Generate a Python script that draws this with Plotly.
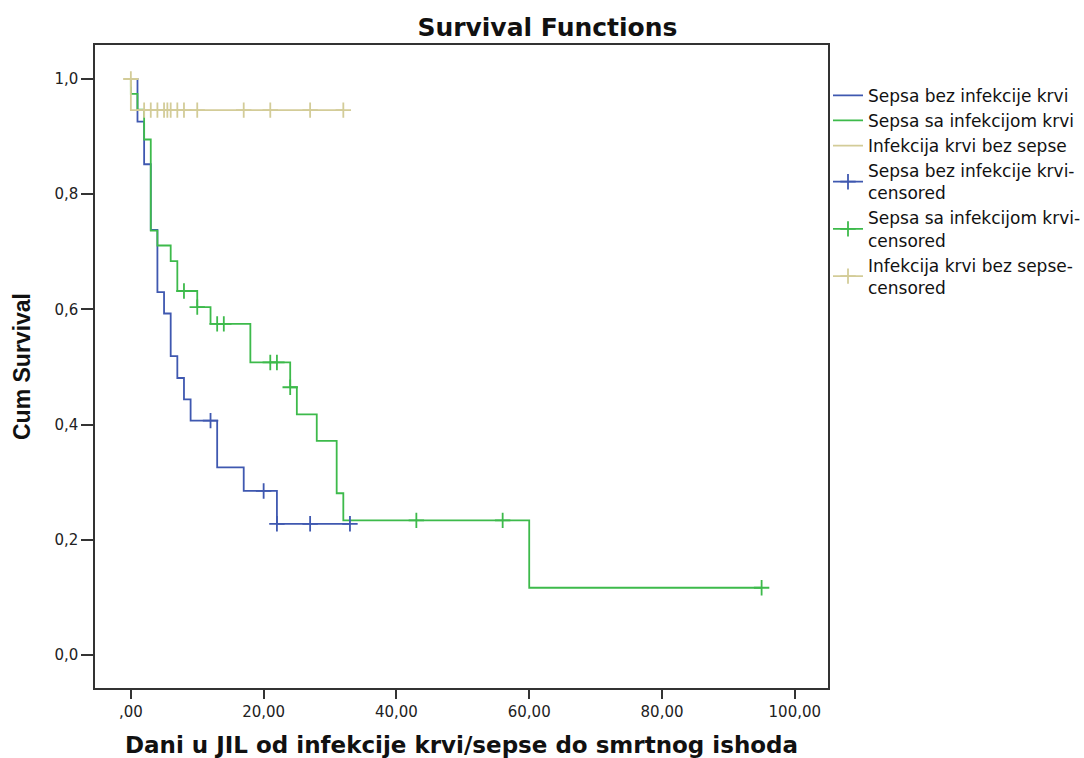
import plotly.graph_objects as go

# ---- data ----
# Sepsa bez infekcije krvi
blue_times = [0, 1, 2, 3, 4, 5, 6, 7, 8, 9, 13, 17, 22]
blue_surv = [1.0, 0.926, 0.852, 0.738, 0.630, 0.593, 0.519, 0.481, 0.444, 0.407, 0.326, 0.285, 0.228]
blue_end = 33
blue_cens_t = [12, 20, 22, 27, 33]
blue_cens_s = [0.407, 0.285, 0.228, 0.228, 0.228]

# Sepsa sa infekcijom krvi
green_times = [0, 0, 1, 2, 3, 4, 6, 7, 10, 12, 18, 24, 25, 28, 31, 32, 60]
green_surv = [1.0, 0.974, 0.947, 0.895, 0.737, 0.711, 0.684, 0.632, 0.604, 0.575, 0.508,
              0.465, 0.418, 0.372, 0.281, 0.234, 0.117]
green_end = 95
green_cens_t = [8, 10, 13, 14, 21, 22, 24, 43, 56, 95]
green_cens_s = [0.632, 0.604, 0.575, 0.575, 0.508, 0.508, 0.465, 0.234, 0.234, 0.117]

# Infekcija krvi bez sepse
tan_times = [0, 0]
tan_surv = [1.0, 0.946]
tan_end = 32
tan_cens_t = [0, 2, 3, 4, 5, 5.5, 6, 7, 8, 10, 17, 21, 27, 32]
tan_cens_s = [1.0, 0.946, 0.946, 0.946, 0.946, 0.946, 0.946, 0.946, 0.946, 0.946, 0.946,
              0.946, 0.946, 0.946]

series_names = ["Sepsa bez infekcije krvi", "Sepsa sa infekcijom krvi", "Infekcija krvi bez sepse"]
x_tick_vals = [0, 20, 40, 60, 80, 100]
x_tick_labels = [",00", "20,00", "40,00", "60,00", "80,00", "100,00"]
y_tick_vals = [0.0, 0.2, 0.4, 0.6, 0.8, 1.0]
y_tick_labels = ["0,0", "0,2", "0,4", "0,6", "0,8", "1,0"]

BLUE = "#3F58B0"
GREEN = "#3DBA4B"
TAN = "#D3CC98"
FONT = "DejaVu Sans, Liberation Sans, Arial, sans-serif"

fig = go.Figure()


def step_trace(times, surv, end, name, color):
    xs = list(times) + [end]
    ys = list(surv) + [surv[-1]]
    return go.Scatter(x=xs, y=ys, mode="lines", line=dict(shape="hv", color=color, width=1.8),
                      name=name, hoverinfo="skip")


def cens_trace(ct, cs, name, color):
    xs, ys = [], []
    for t, s in zip(ct, cs):
        xs += [t, None]
        ys += [s, None]
    return go.Scatter(x=xs, y=ys, mode="lines+markers", connectgaps=False,
                      line=dict(color=color, width=1.8),
                      marker=dict(symbol="cross-thin", size=11, line=dict(color=color, width=1.8)),
                      name=name, hoverinfo="skip")


fig.add_trace(step_trace(blue_times, blue_surv, blue_end, series_names[0], BLUE))
fig.add_trace(step_trace(green_times, green_surv, green_end, series_names[1], GREEN))
fig.add_trace(step_trace(tan_times, tan_surv, tan_end, series_names[2], TAN))
fig.add_trace(cens_trace(blue_cens_t, blue_cens_s, series_names[0] + "-<br>censored", BLUE))
fig.add_trace(cens_trace(green_cens_t, green_cens_s, series_names[1] + "-<br>censored", GREEN))
fig.add_trace(cens_trace(tan_cens_t, tan_cens_s, series_names[2] + "-<br>censored", TAN))

fig.update_layout(
    width=1084, height=758,
    margin=dict(l=95, r=256, t=45, b=70, autoexpand=False),
    paper_bgcolor="white", plot_bgcolor="white",
    font=dict(family=FONT, color="#222222", size=15),
    title=dict(text="<b>Survival Functions</b>", x=0.505, xref="container", xanchor="center",
               y=0.964, yref="container", yanchor="middle",
               font=dict(size=25, color="#111111", family=FONT)),
    showlegend=True,
    legend=dict(x=1.0, y=0.949, xanchor="left", yanchor="top",
                font=dict(size=17, color="#111111", family=FONT),
                bgcolor="rgba(0,0,0,0)", tracegroupgap=0, itemwidth=30),
)
fig.update_xaxes(range=[-5.4, 105], showgrid=False, zeroline=False, automargin=False,
                 showline=True, linecolor="#333333", linewidth=1.5, mirror=True,
                 ticks="outside", ticklen=9, tickcolor="#333333", tickwidth=1.5,
                 tickvals=x_tick_vals, ticktext=x_tick_labels,
                 tickfont=dict(size=15, color="#222222"),
                 title=dict(text="<b>Dani u JIL od infekcije krvi/sepse do smrtnog ishoda</b>",
                            font=dict(size=23, color="#111111"), standoff=18))
fig.update_yaxes(range=[-0.057, 1.059], showgrid=False, zeroline=False, automargin=False,
                 showline=True, linecolor="#333333", linewidth=1.5, mirror=True,
                 ticks="outside", ticklen=12, tickcolor="#333333", tickwidth=1.5,
                 tickfont=dict(size=15, color="#222222"),
                 tickvals=y_tick_vals, ticktext=y_tick_labels,
                 title=dict(text="<b>Cum Survival</b>",
                            font=dict(size=23, color="#111111",
                                      family="Liberation Sans, Arial"),
                            standoff=17))

fig.write_html("out.html")
